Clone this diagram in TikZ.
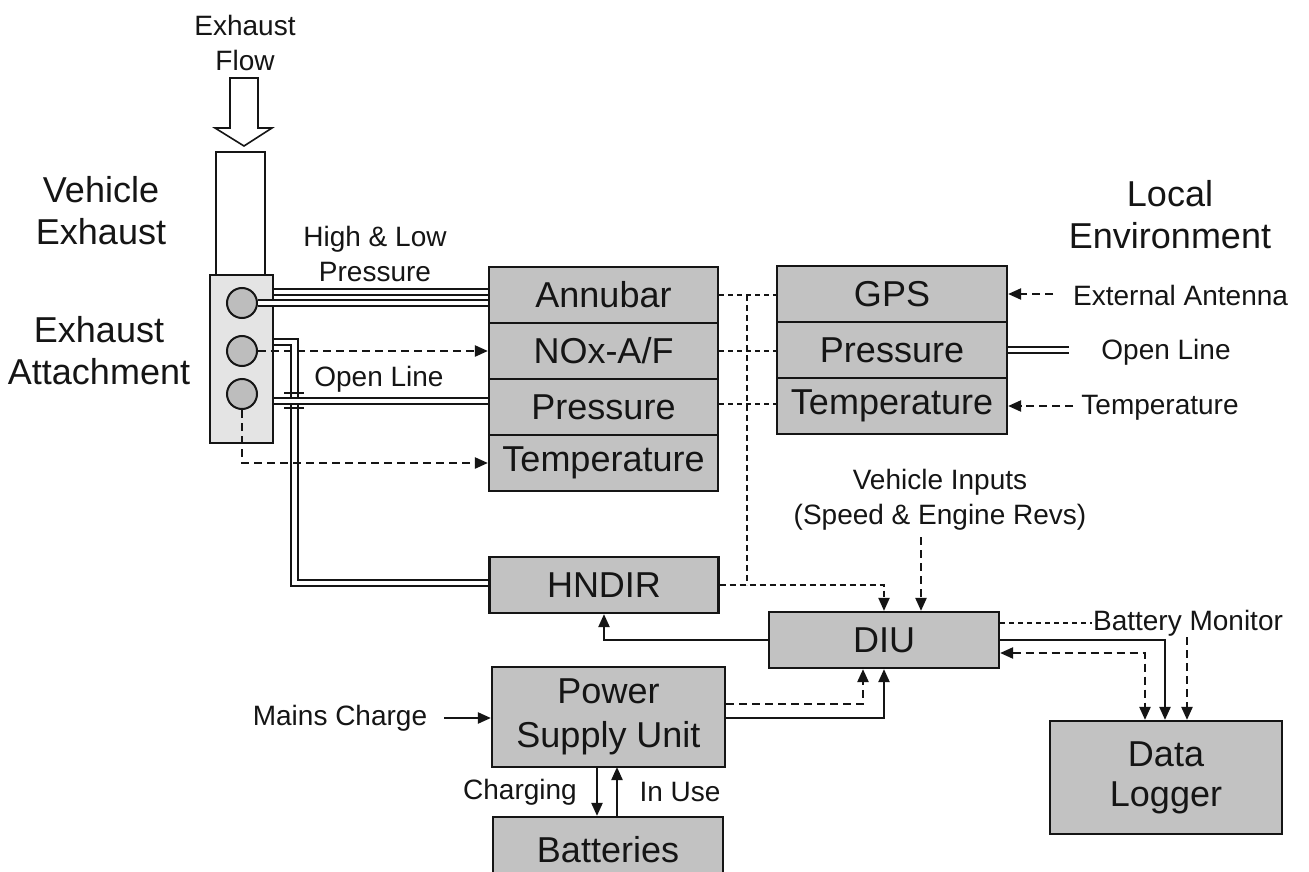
\documentclass[tikz,border=0pt]{standalone}
\usepackage{fontspec}
\setmainfont{Liberation Sans}
\usetikzlibrary{arrows.meta,calc}
\newcommand\bigf{\fontsize{36}{42}\selectfont}
\newcommand\smlf{\fontsize{28}{35}\selectfont}
\definecolor{boxgray}{HTML}{C2C2C2}
\definecolor{attgray}{HTML}{E4E4E4}
\definecolor{circgray}{HTML}{BDBDBD}
\definecolor{ink}{HTML}{151515}
\begin{document}
\begin{tikzpicture}[x=1pt,y=-1pt, line join=miter,
 outl/.style={draw=ink, line width=2pt},
 blk/.style={draw=ink, line width=2.2pt, fill=boxgray, minimum width=229pt, minimum height=56pt, inner sep=0pt, font=\bigf, text=ink, align=center},
 lbl/.style={font=\smlf, align=center, inner sep=0pt, text=ink},
 biglbl/.style={font=\bigf, align=center, inner sep=0pt, text=ink},
 pipe/.style={draw=ink, line width=1.9pt, double=white, double distance=4.8pt},
 dsh/.style={draw=ink, line width=2.3pt, dash pattern=on 8pt off 5pt},
 mdsh/.style={draw=ink, line width=2pt, dash pattern=on 6pt off 4pt},
 fdsh/.style={draw=ink, line width=1.6pt, dash pattern=on 5pt off 4pt},
 tip/.style={-{Triangle[length=13pt,width=11pt]}},
 soli/.style={draw=ink, line width=2.2pt},
]
\clip (0,0) rectangle (1309,872);
\fill[white] (0,0) rectangle (1309,872);

% ---- left side: exhaust ----
\node[lbl] (exflow) at (245,43) {Exhaust\\Flow};
\draw[outl, line width=1.6pt, fill=white] (230,78) -- (258,78) -- (258,128) -- (272,128) -- (244,146) -- (215,128) -- (230,128) -- cycle;
\node[outl, fill=white, minimum width=49pt, minimum height=124pt, inner sep=0pt] (tube) at (240.5,214) {};
\node[outl, fill=attgray, minimum width=63pt, minimum height=168pt, inner sep=0pt] (att) at (241.5,359) {};
\node[outl, fill=circgray, circle, minimum size=30pt, inner sep=0pt] (c1) at (242,303) {};
\node[outl, fill=circgray, circle, minimum size=30pt, inner sep=0pt] (c2) at (242,351) {};
\node[outl, fill=circgray, circle, minimum size=30pt, inner sep=0pt] (c3) at (242,394) {};

\node[biglbl] (vehex) at (101,211) {Vehicle\\Exhaust};
\node[biglbl] (exatt) at (99,351) {Exhaust\\Attachment};

% ---- analyser stack ----
\node[blk] (annu) at (603.5,295) {Annubar};
\node[blk] (nox) at (603.5,351) {NOx-A/F};
\node[blk] (press) at (603.5,407) {Pressure};
\node[blk] (temp) at (603.5,463) {Temperature};

% ---- local environment stack ----
\node[blk, minimum width=230pt] (gps) at (892,294) {GPS};
\node[blk, minimum width=230pt] (pres2) at (892,350) {Pressure};
\node[blk, minimum width=230pt] (temp2) at (892,406) {Temperature};

\node[biglbl] (locenv) at (1170,215) {Local\\Environment};
\node[lbl, anchor=west] (extant) at (1073,295) {External Antenna};
\node[lbl] (openr) at (1166,352) {Open Line};
\node[lbl] (tempr) at (1160,408) {Temperature};

% ---- lower boxes ----
\node[blk] (hndir) at (604,585) {HNDIR};
\node[blk, minimum width=230pt] (diu) at (884,640) {DIU};
\node[blk, minimum width=233pt, minimum height=100pt] (psu) at (608.5,717) {Power\\[2pt]Supply Unit};
\node[blk, minimum width=230pt, minimum height=66pt] (bat) at (608,850) {Batteries};
\node[blk, minimum width=232pt, minimum height=113pt] (dl) at (1166,777.5) {Data\\[-2pt]Logger};

\node[lbl] (mains) at (340,718) {Mains Charge};
\node[lbl] (charging) at (520,792) {Charging};
\node[lbl] (inuse) at (680,792) {In Use};
\node[lbl] (vin) at (940,500) {Vehicle Inputs\\(Speed \& Engine Revs)};
\node[lbl, fill=white, inner xsep=1pt] (bm) at (1188,623) {Battery Monitor};

\node[lbl] (hilo) at (375,254) {High \& Low\\Pressure};
\node[lbl] (openl) at (379,379) {Open Line};

% ---- pipes ----
\draw[pipe] (att.east |- 0,292) -- (annu.west |- 0,292);
\draw[pipe] (c1.east) -- (annu.west |- c1);
\coordinate (pk) at (294.5,342);
\coordinate (pb) at (294.5,583);
\draw[pipe] (att.east |- pk) -- (pk) -- (pb) -- (hndir.west |- pb);
\draw[pipe] (att.east |- 0,401) -- (press.west |- 0,401);
\draw[soli] (284,393) -- (304,393);
\draw[soli, line width=2.6pt] (284,408) -- (304,408);
\draw[pipe] (pres2.east) -- ++(61,0);

% ---- exhaust signals ----
\draw[dsh, tip] (c2.east) -- (nox.west |- c2);
\draw[dsh, tip] (c3.south) -- (c3.south |- temp) -- (temp.west);

% ---- bus between stacks ----
\draw[fdsh] (annu.east) -- (gps.west |- annu.east);
\draw[fdsh] (nox.east) -- (pres2.west |- nox.east);
\draw[fdsh] (press.east |- 0,404) -- (temp2.west |- 0,404);
\coordinate (bus) at (747,295);
\draw[mdsh] (bus) -- (bus |- hndir.east);
\draw[mdsh, tip] (hndir.east) -| (diu.north);

% ---- environment inputs ----
\draw[dsh, tip] (extant.west |- gps.east) ++(-20,0) -- (gps.east);
\draw[dsh, tip] (tempr.west |- temp2.east) ++(-8,0) -- (temp2.east);

% ---- vehicle inputs ----
\coordinate (vi) at (921,537);
\draw[dsh, tip] (vi) -- (vi |- diu.north);

% ---- DIU / HNDIR / PSU ----
\draw[soli, tip] (diu.west) -| (hndir.south);
\coordinate (pd) at (863,704);
\coordinate (ps) at (884,718);
\draw[dsh, tip] (psu.east |- pd) -| (pd |- diu.south);
\draw[soli, tip] (psu.east |- ps) -| (ps |- diu.south);

\draw[soli, tip] ([xshift=17pt]mains.east) -- (psu.west |- mains.east);
\coordinate (chg) at (597,767);
\coordinate (use) at (617,767);
\draw[soli, tip] (chg) -- (chg |- bat.north);
\draw[soli, tip] (use |- bat.north) -- (use);

% ---- DIU to Data Logger ----
\draw[fdsh] (diu.east |- bm) -- (bm.west);
\coordinate (dsol) at (1165,640);
\coordinate (dbi) at (1145,653);
\coordinate (dbm) at (1187,637);
\draw[soli, tip] (diu.east |- dsol) -| (dsol |- dl.north);
\draw[dsh, {Triangle[length=13pt,width=11pt]}-{Triangle[length=13pt,width=11pt]}] (diu.east |- dbi) -| (dbi |- dl.north);
\draw[dsh, tip] (dbm) -- (dbm |- dl.north);
\end{tikzpicture}
\end{document}
